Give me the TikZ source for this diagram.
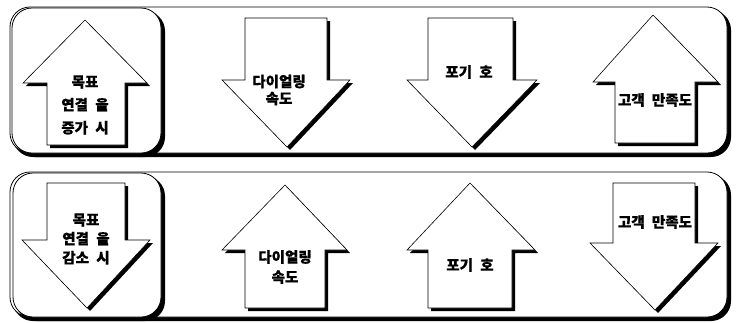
\documentclass[tikz,border=0pt]{standalone}
\usepackage{fontspec}
\newfontfamily\kr{Noto Sans CJK KR}[WordSpace=2.2, BoldFeatures={FakeBold=0.7}]
\tikzset{
  panel/.style={fill=white, draw=black, line width=0.8pt, rounded corners=20pt},
  panelshadow/.style={fill=black, rounded corners=20pt},
  arr/.style={fill=white, draw=black, line width=0.6pt, line join=miter},
  arrshadow/.style={fill=black},
  lbl/.style={font=\kr\bfseries\fontsize{14.5}{17}\selectfont, align=center, inner sep=0pt},
}
\begin{document}
\begin{tikzpicture}[x=1pt, y=-1pt]
\useasboundingbox (0,0) rectangle (736,322);
% ---------- top panel ----------
\fill[panelshadow] (13,10) rectangle (731,157);
\draw[panel] (10,7) rectangle (727,153);
\fill[panelshadow] (15,11) rectangle (165,157);
\draw[panel] (12,8) rectangle (161,153);
% ---------- bottom panel ----------
\fill[panelshadow] (13,175) rectangle (731,321);
\draw[panel] (10,172) rectangle (727,317);
\fill[panelshadow] (16,176) rectangle (165,321);
\draw[panel] (13,173) rectangle (161,317);

% ---------- arrow shadows ----------
\begin{scope}[shift={(3,3)}]
\fill[arrshadow] (85,20) -- (147,83) -- (125,83) -- (125,145) -- (47,145) -- (47,83) -- (23,83) -- cycle;
\fill[arrshadow] (245,18) -- (327,18) -- (327,80) -- (350,80) -- (287,147) -- (222,80) -- (245,80) -- cycle;
\fill[arrshadow] (428,18) -- (513,18) -- (513,80) -- (537,80) -- (472,147) -- (407,80) -- (428,80) -- cycle;
\fill[arrshadow] (653,15) -- (718,82) -- (695,82) -- (695,143) -- (615,143) -- (615,82) -- (593,82) -- cycle;
\fill[arrshadow] (47,183) -- (125,183) -- (125,240) -- (150,240) -- (87,308) -- (22,240) -- (47,240) -- cycle;
\fill[arrshadow] (285,185) -- (347,250) -- (325,250) -- (325,308) -- (245,308) -- (245,250) -- (222,250) -- cycle;
\fill[arrshadow] (470,183) -- (535,250) -- (512,250) -- (512,308) -- (428,308) -- (428,250) -- (407,250) -- cycle;
\fill[arrshadow] (613,183) -- (695,183) -- (695,243) -- (718,243) -- (655,310) -- (590,243) -- (613,243) -- cycle;
\end{scope}
% ---------- arrows ----------
\draw[arr] (85,20) -- (147,83) -- (125,83) -- (125,145) -- (47,145) -- (47,83) -- (23,83) -- cycle;
\draw[arr] (245,18) -- (327,18) -- (327,80) -- (350,80) -- (287,147) -- (222,80) -- (245,80) -- cycle;
\draw[arr] (428,18) -- (513,18) -- (513,80) -- (537,80) -- (472,147) -- (407,80) -- (428,80) -- cycle;
\draw[arr] (653,15) -- (718,82) -- (695,82) -- (695,143) -- (615,143) -- (615,82) -- (593,82) -- cycle;
\draw[arr] (47,183) -- (125,183) -- (125,240) -- (150,240) -- (87,308) -- (22,240) -- (47,240) -- cycle;
\draw[arr] (285,185) -- (347,250) -- (325,250) -- (325,308) -- (245,308) -- (245,250) -- (222,250) -- cycle;
\draw[arr] (470,183) -- (535,250) -- (512,250) -- (512,308) -- (428,308) -- (428,250) -- (407,250) -- cycle;
\draw[arr] (613,183) -- (695,183) -- (695,243) -- (718,243) -- (655,310) -- (590,243) -- (613,243) -- cycle;

% ---------- labels ----------
\node[lbl, font=\kr\bfseries\fontsize{14.5}{23}\selectfont] (t1) at (85,105) {목표\\연결 을\\증가 시};
\node[lbl] (t2) at (279,90) {다이얼링\\속도};
\node[lbl] (t3) at (469,72) {포기 호};
\node[lbl] (t4) at (655,100) {고객 만족도};
\node[lbl, font=\kr\bfseries\fontsize{14.5}{19}\selectfont] (b1) at (86,239) {목표\\연결 을\\감소 시};
\node[lbl, font=\kr\bfseries\fontsize{14.5}{20}\selectfont] (b2) at (285,267) {다이얼링\\속도};
\node[lbl] (b3) at (470,265) {포기 호};
\node[lbl] (b4) at (655,222) {고객 만족도};
\end{tikzpicture}
\end{document}
